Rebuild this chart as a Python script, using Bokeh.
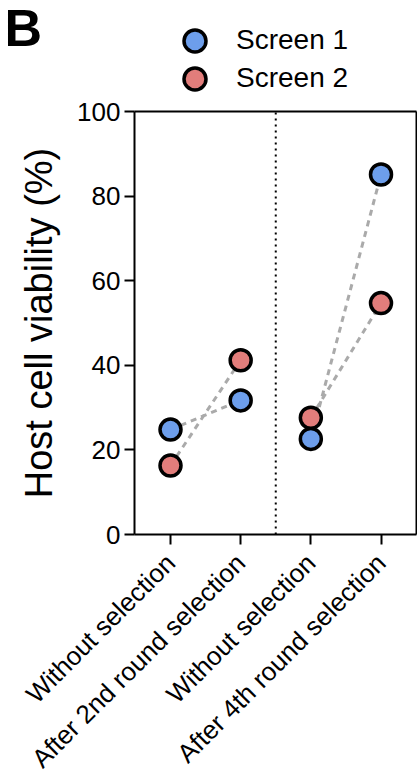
import math
from bokeh.plotting import figure
from bokeh.models import (Range1d, FixedTicker, Legend, LegendItem, Label,
                          ColumnDataSource)
from bokeh.embed import file_html
from bokeh.resources import INLINE

# ---- data ----
categories = ["Without selection", "After 2nd round selection",
              "Without selection", "After 4th round selection"]
x_pos = [0, 1, 2, 3]
screen1 = [24.8, 31.7, 22.6, 85.1]
screen2 = [16.3, 41.2, 27.6, 54.7]
y_ticks = [0, 20, 40, 60, 80, 100]
series_names = ["Screen 1", "Screen 2"]
series_colors = ["#6d9eeb", "#e27d7b"]
divider_x = 1.5
y_min, y_max = 0, 100

FONT = "Liberation Sans"

# ---- layout geometry (pixels) ----
W, H = 417, 782
PX_PER_X = 70.17          # pixels between categories
X0_PX = 170               # pixel of first category
PX_PER_Y = 4.23           # pixels per percent
Y0_PX = 534               # pixel row of 0 %
FRAME_L_PX, FRAME_R_PX = 134, 416

x_start = -X0_PX / PX_PER_X
x_end = (W - X0_PX) / PX_PER_X
y_start = -(H - Y0_PX) / PX_PER_Y
y_end = Y0_PX / PX_PER_Y
x_left = (FRAME_L_PX - X0_PX) / PX_PER_X
x_right = (FRAME_R_PX - X0_PX) / PX_PER_X

p = figure(width=W, height=H, output_backend="svg", toolbar_location=None,
           x_range=Range1d(x_start, x_end), y_range=Range1d(y_start, y_end),
           min_border=0)
p.grid.visible = False
p.outline_line_color = None
p.background_fill_color = "white"
p.border_fill_color = "white"

# box: top and right borders
p.segment(x0=[x_left, x_right], y0=[y_max, y_min], x1=[x_right, x_right],
          y1=[y_max, y_max], line_color="black", line_width=2)
# dotted divider between the two experiments
p.segment(x0=[divider_x], y0=[y_min], x1=[divider_x], y1=[y_max],
          line_color="black", line_width=2, line_dash="2 4")

# dashed connecting lines per experiment pair
for vals in (screen1, screen2):
    for a, b in ((0, 1), (2, 3)):
        p.line([x_pos[a], x_pos[b]], [vals[a], vals[b]], line_color="#aaaaaa",
               line_width=3, line_dash="6 5")

renderers = []
for vals, col in zip((screen1, screen2), series_colors):
    src = ColumnDataSource(dict(x=x_pos, y=vals))
    r = p.scatter("x", "y", source=src, size=21, fill_color=col,
                  line_color="black", line_width=3.5)
    renderers.append(r)

# one legend per entry so the rows can sit close together
legend_rows_px = [40, 78]   # centre rows of legend entries (from top)
for name, r, row in zip(series_names, renderers, legend_rows_px):
    lg = Legend(items=[LegendItem(label=name, renderers=[r])],
                location=(167, H - row - 27.5), glyph_width=55, glyph_height=55,
                padding=0, margin=0, label_standoff=14,
                label_text_font=FONT, label_text_font_size="28px",
                label_text_color="black",
                border_line_color=None, background_fill_alpha=0)
    p.add_layout(lg, "center")

# x axis
xa = p.xaxis[0]
xa.fixed_location = y_min
xa.bounds = (x_left, x_right)
xa.ticker = FixedTicker(ticks=x_pos)
xa.major_label_overrides = {x: c for x, c in zip(x_pos, categories)}
xa.major_label_orientation = math.pi / 4
xa.major_label_text_font = FONT
xa.major_label_text_font_size = "26px"
xa.major_label_text_color = "black"
xa.minor_tick_line_color = None
xa.major_tick_in = 0
xa.major_tick_out = 10
xa.major_tick_line_width = 2
xa.axis_line_width = 2
xa.major_label_standoff = 14

# y axis
ya = p.yaxis[0]
ya.fixed_location = x_left
ya.bounds = (y_min, y_max)
ya.ticker = FixedTicker(ticks=y_ticks)
ya.axis_label = "Host cell viability (%)"
ya.axis_label_text_font = FONT
ya.axis_label_text_font_size = "38px"
ya.axis_label_text_font_style = "normal"
ya.axis_label_text_color = "black"
ya.axis_label_standoff = 14
ya.major_label_text_font = FONT
ya.major_label_text_font_size = "26px"
ya.major_label_text_color = "black"
ya.minor_tick_line_color = None
ya.major_tick_in = 0
ya.major_tick_out = 10
ya.major_tick_line_width = 2
ya.axis_line_width = 2
ya.major_label_standoff = 4

p.add_layout(Label(x=4, y=755, x_units="screen", y_units="screen", text="B",
                   text_font=FONT, text_font_size="52px", text_font_style="bold",
                   text_color="black", text_baseline="alphabetic"))

open("out.html", "w").write(file_html(p, INLINE))
